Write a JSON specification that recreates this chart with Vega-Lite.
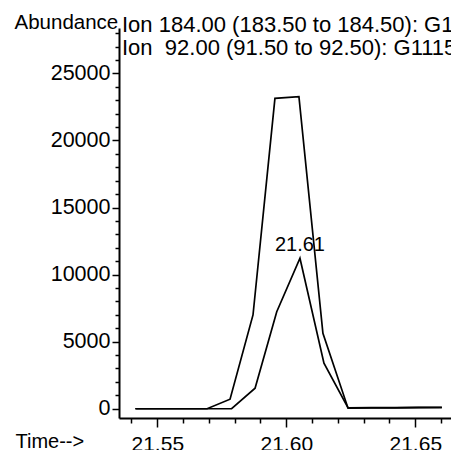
{
  "$schema": "https://vega.github.io/schema/vega-lite/v6.json",
  "width": 332,
  "height": 390,
  "autosize": "none",
  "padding": {"left": 119, "top": 28, "right": 0, "bottom": 32},
  "background": "white",
  "title": {
    "text": ["Ion 184.00 (183.50 to 184.50): G111", "Ion\u00a0 92.00 (91.50 to 92.50): G1115"],
    "anchor": "start",
    "frame": "group",
    "orient": "top",
    "offset": 0,
    "baseline": "alphabetic",
    "lineHeight": 23,
    "fontSize": 22,
    "font": "Liberation Sans",
    "fontWeight": "normal",
    "color": "black",
    "dx": 3,
    "dy": 65
  },
  "datasets": {
    "traces": [
      {"ion": "184", "time": 21.5414, "value": 0},
      {"ion": "184", "time": 21.5507, "value": 0},
      {"ion": "184", "time": 21.5600, "value": 0},
      {"ion": "184", "time": 21.5693, "value": 0},
      {"ion": "184", "time": 21.5782, "value": 708},
      {"ion": "184", "time": 21.5871, "value": 6990},
      {"ion": "184", "time": 21.5956, "value": 23137},
      {"ion": "184", "time": 21.6049, "value": 23256},
      {"ion": "184", "time": 21.6142, "value": 5626},
      {"ion": "184", "time": 21.6239, "value": 60},
      {"ion": "184", "time": 21.6330, "value": 80},
      {"ion": "184", "time": 21.6421, "value": 90},
      {"ion": "184", "time": 21.6512, "value": 100},
      {"ion": "184", "time": 21.6603, "value": 110},
      {"ion": "92", "time": 21.5418, "value": 0},
      {"ion": "92", "time": 21.5509, "value": 0},
      {"ion": "92", "time": 21.5606, "value": 0},
      {"ion": "92", "time": 21.5697, "value": 0},
      {"ion": "92", "time": 21.5788, "value": 0},
      {"ion": "92", "time": 21.5879, "value": 1528},
      {"ion": "92", "time": 21.5963, "value": 7236},
      {"ion": "92", "time": 21.6053, "value": 11215},
      {"ion": "92", "time": 21.6146, "value": 3390},
      {"ion": "92", "time": 21.6240, "value": 40},
      {"ion": "92", "time": 21.6331, "value": 60},
      {"ion": "92", "time": 21.6422, "value": 70},
      {"ion": "92", "time": 21.6513, "value": 80},
      {"ion": "92", "time": 21.6603, "value": 90}
    ],
    "peaks": [
      {"time": 21.6053, "value": 11215, "label": "21.61"}
    ]
  },
  "encoding": {
    "x": {
      "field": "time",
      "type": "quantitative",
      "scale": {"domain": [21.53516, 21.66384], "nice": false, "zero": false},
      "axis": {
        "values": [21.54, 21.55, 21.56, 21.57, 21.58, 21.59, 21.60, 21.61, 21.62, 21.63, 21.64, 21.65, 21.66],
        "labelExpr": "round(datum.value * 100) % 5 === 0 ? format(datum.value, '.2f') : ''",
        "tickSize": {"condition": {"test": "round(datum.value * 100) % 5 === 0", "value": 9}, "value": 5},
        "labelPadding": 6,
        "labelFontSize": 21,
        "labelFlush": false,
        "labelOverlap": false,
        "title": "Time-->",
        "titleX": -104,
        "titleY": 29,
        "titleAlign": "left",
        "titleAnchor": null,
        "titleBaseline": "alphabetic",
        "titleFontSize": 20
      }
    },
    "y": {
      "field": "value",
      "type": "quantitative",
      "scale": {"domain": [-690, 28380], "nice": false, "zero": false},
      "axis": {
        "values": [0, 1000, 2000, 3000, 4000, 5000, 6000, 7000, 8000, 9000, 10000, 11000, 12000, 13000, 14000, 15000, 16000, 17000, 18000, 19000, 20000, 21000, 22000, 23000, 24000, 25000, 26000, 27000, 28000],
        "labelExpr": "datum.value % 5000 === 0 ? format(datum.value, 'd') : ''",
        "tickSize": {"condition": {"test": "datum.value % 5000 === 0", "value": 7}, "value": 4},
        "labelPadding": 2,
        "labelFontSize": 21.5,
        "labelFlush": false,
        "labelOverlap": false,
        "title": "Abundance",
        "titleAngle": 0,
        "titleX": -105,
        "titleY": 0,
        "titleAlign": "left",
        "titleAnchor": null,
        "titleBaseline": "alphabetic",
        "titleFontSize": 20.5
      }
    }
  },
  "layer": [
    {
      "data": {"name": "traces"},
      "mark": {"type": "line", "color": "black", "strokeWidth": 1.7, "clip": true},
      "encoding": {
        "detail": {"field": "ion", "type": "nominal"},
        "order": {"field": "time", "type": "quantitative"}
      }
    },
    {
      "data": {"name": "peaks"},
      "mark": {"type": "text", "color": "black", "fontSize": 20, "font": "Liberation Sans", "baseline": "alphabetic", "align": "center", "dy": -7},
      "encoding": {
        "text": {"field": "label", "type": "nominal"}
      }
    }
  ],
  "config": {
    "view": {"stroke": null},
    "font": "Liberation Sans",
    "axis": {
      "grid": false,
      "domainColor": "black",
      "domainWidth": 2,
      "tickColor": "black",
      "tickWidth": 1.5,
      "labelColor": "black",
      "labelFont": "Liberation Sans",
      "titleColor": "black",
      "titleFont": "Liberation Sans",
      "titleFontWeight": "normal",
      "titlePadding": 0
    }
  }
}
